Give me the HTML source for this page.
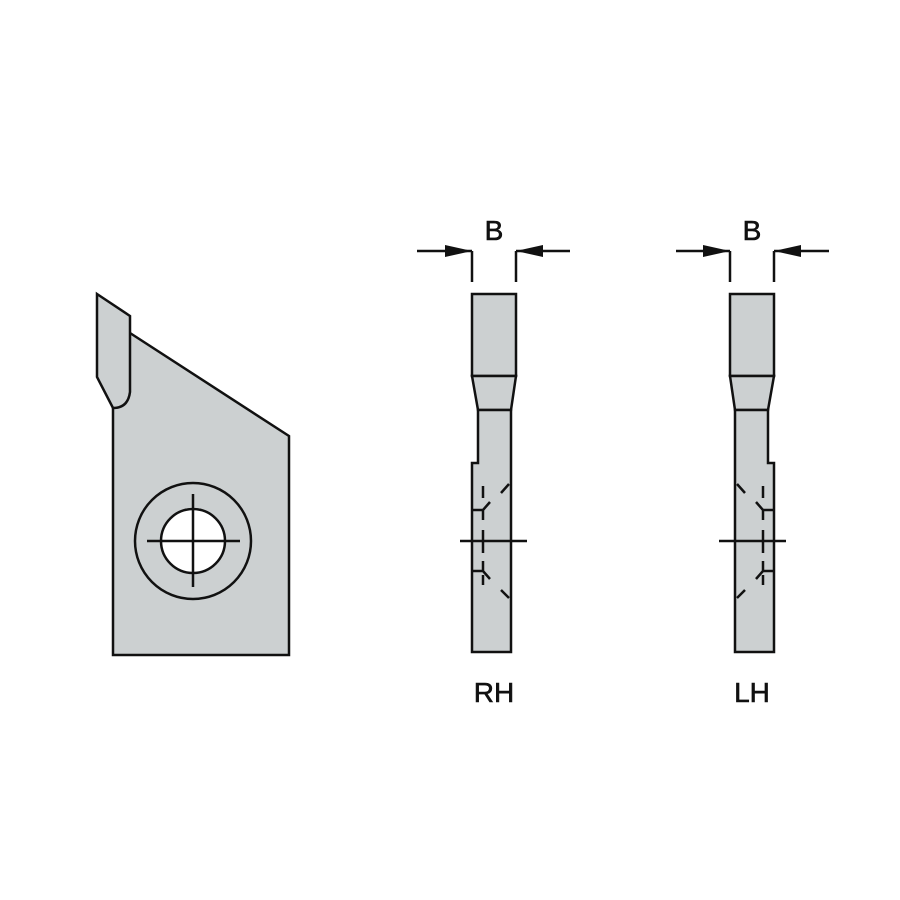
<!DOCTYPE html>
<html><head><style>html,body{margin:0;padding:0;background:#fff;width:900px;height:900px;overflow:hidden}</style></head>
<body>
<svg width="900" height="900" viewBox="0 0 900 900" xmlns="http://www.w3.org/2000/svg">
<defs>
<g id="side" stroke="#111" stroke-width="2.5" fill="#ccd0d1">
  <line x1="417" y1="251" x2="472" y2="251"/>
  <line x1="516" y1="251" x2="570" y2="251"/>
  <polygon points="472,251 445,245 445,257" fill="#111" stroke="none"/>
  <polygon points="516,251 543,245 543,257" fill="#111" stroke="none"/>
  <line x1="472" y1="251" x2="472" y2="282"/>
  <line x1="516" y1="251" x2="516" y2="282"/>
  <rect x="472" y="294" width="44" height="82"/>
  <polygon points="472,376 516,376 511,410 478,410"/>
  <polygon points="478,410 511,410 511,652 472,652 472,463 478,463"/>
  <line x1="483" y1="486" x2="483" y2="498"/>
  <line x1="483" y1="530" x2="483" y2="553"/>
  <line x1="483" y1="575" x2="483" y2="585"/>
  <path d="M472,510 H483 L490,502 M483,510 V520" fill="none"/>
  <path d="M472,571 H483 L490,579 M483,571 V561" fill="none"/>
  <line x1="501" y1="493" x2="509" y2="484"/>
  <line x1="501" y1="590" x2="509" y2="598"/>
  <line x1="460" y1="541" x2="527" y2="541"/>
</g>
</defs>
<g stroke="#111" stroke-width="2.5" fill="#ccd0d1">
  <polygon points="130,333 289,436 289,655 113,655 113,408"/>
  <path d="M97,294 L130,316 L130,392 Q128,408 113,408 L97,377 Z"/>
  <circle cx="193" cy="541" r="58"/>
  <circle cx="193" cy="541" r="32" fill="#fff"/>
  <line x1="147" y1="541" x2="240" y2="541"/>
  <line x1="193" y1="494" x2="193" y2="587"/>
</g>
<use href="#side"/>
<use href="#side" transform="translate(1246,0) scale(-1,1)"/>
<g font-family="Liberation Sans, sans-serif" font-size="28" fill="#111" stroke="#111" stroke-width="0.6" text-anchor="middle">
  <text x="494" y="240">B</text>
  <text x="752" y="240">B</text>
  <text x="494" y="702">RH</text>
  <text x="752" y="702">LH</text>
</g>
</svg>
</body></html>
